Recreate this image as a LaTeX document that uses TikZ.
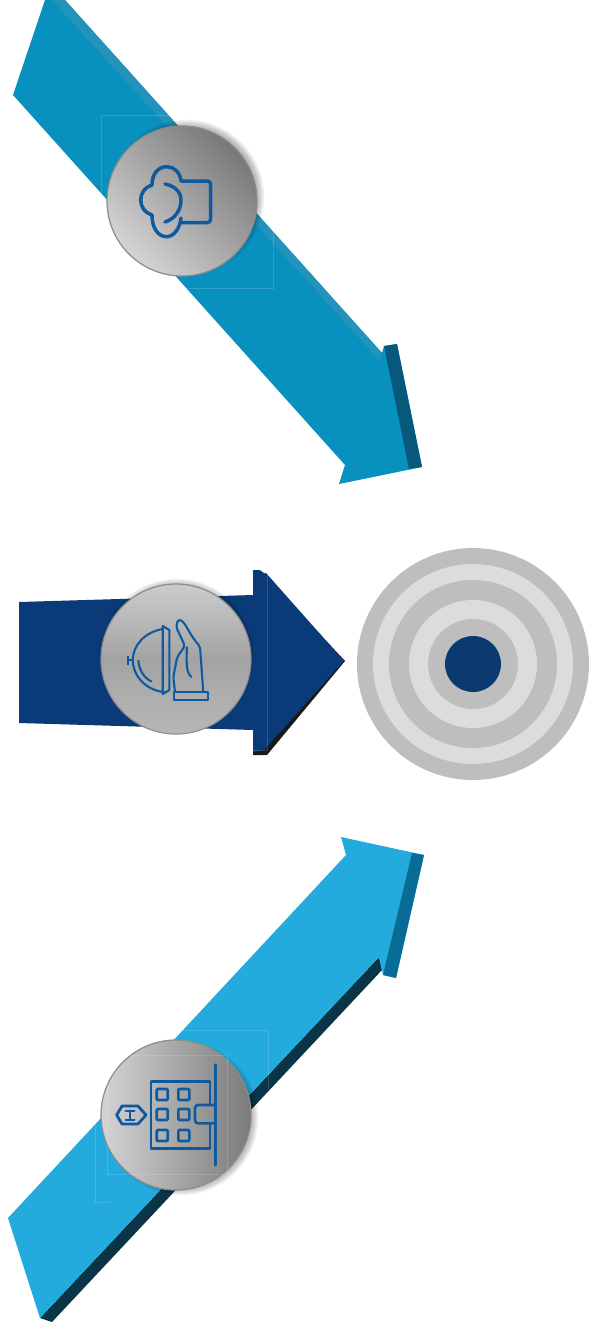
\documentclass[tikz,border=0pt]{standalone}
\usepackage{tikz}
\definecolor{topblue}{HTML}{0890BE}
\definecolor{topstrip}{HTML}{2493B9}
\definecolor{topside}{HTML}{06597A}
\definecolor{midblue}{HTML}{0A3B78}
\definecolor{skyblue}{HTML}{22ABDC}
\definecolor{skyside}{HTML}{086C96}
\definecolor{skyedge}{HTML}{0A3547}
\definecolor{iconblue}{HTML}{0F5A9E}
\definecolor{ringdark}{HTML}{BEBEBE}
\definecolor{ringlight}{HTML}{DCDCDC}
\definecolor{ringcore}{HTML}{0A3A70}
\tikzset{
    disc/.style={circle, draw=black!45, line width=1.2pt, inner sep=0pt, minimum size=150pt},
    icon/.style={draw=iconblue, line width=3.5pt, line cap=round, line join=round},
    iconthin/.style={draw=iconblue, line width=2.1pt, line join=round},
    ghost/.style={draw=white, opacity=0.15, line width=0.5pt},
    ring/.style={circle, inner sep=0pt}
}
\newcommand{\discshadow}[2]{
    \foreach \k in {1,...,6}
        \fill[black, opacity=0.05] (#1,#2) circle ({70+1.2*\k});
}
\begin{document}
\begin{tikzpicture}[x=1pt, y=-1pt]
\useasboundingbox (0,0) rectangle (589,1335);

% upper arrow
\fill[topblue] (45,0) -- (65,0) -- (382,353) -- (384,346) -- (397,344)
    -- (422,467) -- (339,484) -- (345,465) -- (13,95) -- cycle;
\fill[topstrip] (52,0) -- (65,0) -- (382,353) -- (380,361) -- cycle;
\fill[topside] (384,346) -- (397,344) -- (422,467) -- (409,469) -- cycle;
\draw[ghost] (101,115) rectangle (273,288);

% middle arrow
\fill[black!90] (262,572) -- (345,661) -- (267,755) -- (253,755) -- (253,745) -- (262,740) -- (335,661) -- cycle;
\fill[midblue] (19,602) -- (253,595) -- (253,570) -- (259,570) to[out=0,in=-135] (266,573)
    -- (344,661) -- (264,750) -- (253,752) -- (253,730) -- (19,723) -- cycle;
\draw[ghost] (267,572) -- (267,750) -- (253,750);

% lower arrow
\fill[skyedge] (40,1318) -- (379,957) -- (382,970) -- (52,1322) -- cycle;
\fill[skyblue] (8,1218) -- (346,855) -- (341,837) -- (424,855)
    -- (396,978) -- (383,975) -- (379,957) -- (40,1318) -- cycle;
\fill[skyside] (412,853) -- (424,855) -- (396,978) -- (383,975) -- cycle;
\draw[ghost] (95,1202) -- (95,1120) (95,1202) -- (110,1202);
\draw[ghost] (140,1030) -- (268,1030) -- (268,1090);

% target
\foreach \d/\c/\n in {232/ringdark/ringa, 200/ringlight/ringb, 168/ringdark/ringc,
    128/ringlight/ringd, 90/ringdark/ringe, 56/ringcore/ringf}
    \node[ring, fill=\c, minimum size=\d pt] (\n) at (473,664) {};

% discs
\discshadow{187}{197}
\node[disc, top color=black!53, bottom color=black!17, shading angle=-45] (hatdisc) at (182,201) {};
\discshadow{177}{656}
\node[disc, top color=black!20, bottom color=black!28, middle color=black!36, shading angle=0] (clochedisc) at (176,659) {};
\discshadow{181}{1118}
\node[disc, top color=black!52, bottom color=black!17, shading angle=-90] (hoteldisc) at (176,1115) {};
\draw[ghost] (107,1055) rectangle (227,1174);

% chef hat
\draw[icon] (181,181) .. controls (180,172) and (174,166.7) .. (166.7,166.7)
    .. controls (158,166.7) and (152,174) .. (152,185)
    .. controls (145,187) and (140.7,193) .. (140.7,200)
    .. controls (140.7,207) and (145,213) .. (152,215)
    .. controls (152,228) and (158,236.7) .. (166.7,236.7)
    .. controls (174,236.7) and (180,228) .. (181,218);
\draw[icon] (165,184) .. controls (175,186) and (181,192) .. (181,200)
    .. controls (181,210) and (175,219) .. (165,222);
\draw[icon, rounded corners=3pt] (181,181) -- (210.5,181) -- (210.5,222.5) -- (181,222.5);

% cloche and hand
\draw[iconthin] (162.7,629) .. controls (145,632) and (133,645) .. (132.7,660)
    .. controls (133,676) and (145,689) .. (162.7,692);
\draw[iconthin] (162.7,626) -- (169.3,630) -- (169.3,690) -- (162.7,694) -- cycle;
\draw[iconthin] (128.3,660) -- (132.7,660) (128.3,656) -- (128.3,665);
\draw[iconthin] (138.3,660) .. controls (139,670) and (144,678) .. (151.7,681.7);
\draw[iconthin] (174,692.3) rectangle (208.3,700);
\draw[iconthin, rounded corners=3pt] (175,692.3) -- (173.3,676.7) -- (177.3,656.7) -- (185,646)
    -- (176,626.7) -- (178.3,619) -- (183.3,621.7) -- (193.3,638.3) -- (200,646.7) -- (203.3,692.3);
\draw[iconthin] (186.7,646.7) .. controls (187,660) and (185,672) .. (191.7,677.3);

% hotel
\draw[icon] (215.7,1065) -- (215.7,1165);
\draw[icon, line width=2.8pt, line cap=butt] (210,1105) -- (210,1081.7) -- (151,1081.7) -- (151,1148.3) -- (210,1148.3) -- (210,1123.5);
\draw[icon, line width=2.6pt, rounded corners=3pt] (215.7,1105) -- (195,1105) -- (195,1123.3) -- (215.7,1123.3);
\foreach \wx in {156.7,178.3}
    \foreach \wy in {1089,1109,1130}
        \draw[icon, line width=2.6pt, rounded corners=1pt] (\wx,\wy) rectangle ++(11,11);
\draw[icon, line width=2.8pt] (116.7,1115) -- (122,1106) -- (138,1106) -- (146,1115) -- (138,1124) -- (122,1124) -- cycle;
\draw[icon, line width=2pt] (125.5,1110.5) -- (134.5,1110.5) (125.5,1119.5) -- (134.5,1119.5) (130,1110.5) -- (130,1119.5);
\end{tikzpicture}
\end{document}
